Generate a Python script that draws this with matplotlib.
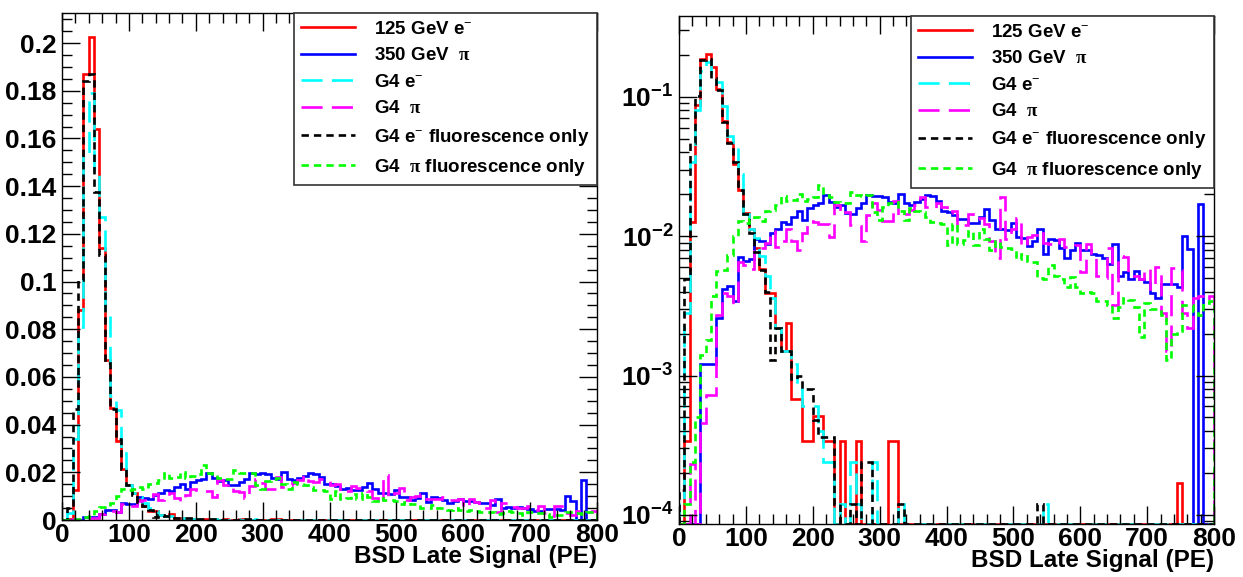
import numpy as np
import matplotlib
matplotlib.use("Agg")
import matplotlib.pyplot as plt
from matplotlib.ticker import MultipleLocator, LogLocator, FuncFormatter, NullFormatter

plt.rcParams["font.family"] = ["Liberation Sans", "DejaVu Sans"]
plt.rcParams["font.weight"] = "bold"
plt.rcParams["mathtext.fontset"] = "custom"
plt.rcParams["mathtext.rm"] = "Liberation Serif"
plt.rcParams["mathtext.bf"] = "Liberation Sans:bold"
plt.rcParams["mathtext.it"] = "Liberation Sans:italic"

# 100 bins of 8 PE, 0..800
bin_width = 8
n_bins = 100

# 125 GeV e- (data)
e125 = [0, 3.4e-4, 0.0126, 0.088, 0.187, 0.2025, 0.164, 0.114, 0.067, 0.047,
        0.033, 0.0215, 0.0146, 0.0112, 0.0082, 0.0058, 0.0039, 0.0039, 0.0022, 0.0015,
        0.0024, 6.8e-4, 6.8e-4, 3.4e-4, 3.4e-4, 5.1e-4, 5.1e-4, 3.4e-4, 3.4e-4, 0,
        3.4e-4, 0, 0, 3.4e-4, 0, 0, 0, 0, 0, 3.4e-4,
        3.4e-4, 0, 0, 0, 0, 0, 0, 0, 0, 0,
        0, 0, 0, 0, 0, 0, 0, 0, 0, 0,
        0, 0, 0, 0, 0, 0, 0, 0, 0, 0,
        0, 0, 0, 0, 0, 0, 0, 0, 0, 0,
        0, 0, 0, 0, 0, 0, 0, 0, 0, 0,
        0, 0, 0, 1.7e-4, 0, 0, 0, 0, 0, 0]

# 350 GeV pi (data)
pi350 = [0, 0, 0, 0, 0.0012, 0.0012, 0.0012, 0.0026, 0.0042, 0.0044,
         0.0034, 0.0071, 0.0066, 0.0069, 0.0095, 0.0093, 0.0088, 0.0105, 0.0112, 0.0126,
         0.0122, 0.0138, 0.0152, 0.013, 0.0158, 0.0166, 0.0172, 0.0198, 0.0175, 0.0162,
         0.0168, 0.0147, 0.0145, 0.0158, 0.0172, 0.0198, 0.0194, 0.0195, 0.0192, 0.0176,
         0.0174, 0.0201, 0.0172, 0.0168, 0.0175, 0.0185, 0.0196, 0.0194, 0.018, 0.0152,
         0.015, 0.0142, 0.0132, 0.0133, 0.0125, 0.0124, 0.0138, 0.0156, 0.013, 0.0112,
         0.0113, 0.011, 0.0125, 0.0098, 0.0097, 0.0085, 0.0092, 0.0112, 0.0074, 0.0095,
         0.0094, 0.0082, 0.007, 0.008, 0.009, 0.008, 0.0079, 0.0074, 0.0073, 0.007,
         0.0063, 0.0088, 0.0052, 0.0055, 0.0049, 0.0056, 0.0049, 0.0047, 0.0039, 0.0036,
         0.0045, 0.0045, 0.0045, 0.0043, 0.0101, 0.0081, 0, 0.0169, 0, 0]

# G4 e-
g4_e = [1.2e-4, 0.0028, 0.034, 0.081, 0.1525, 0.179, 0.146, 0.127, 0.086, 0.052,
        0.046, 0.028, 0.0145, 0.0112, 0.0097, 0.0072, 0.0052, 0.0036, 0.0022, 0.0015,
        0.0015, 0.0012, 8e-4, 6e-4, 6e-4, 6e-4, 4e-4, 2.4e-4, 2.4e-4, 0,
        1.2e-4, 0, 2.4e-4, 1.2e-4, 0, 0, 2.4e-4, 0, 0, 0,
        0, 1.2e-4, 0, 0, 0, 0, 0, 0, 0, 0,
        0, 0, 0, 0, 0, 0, 0, 0, 0, 0,
        0, 0, 0, 0, 0, 0, 0, 0, 1.2e-4, 0,
        0, 0, 0, 0, 0, 0, 0, 0, 0, 0,
        0, 0, 0, 0, 0, 0, 0, 0, 0, 0,
        0, 0, 0, 0, 0, 0, 0, 0, 0, 0]

# G4 pi
g4_pi = [0, 0, 2.3e-4, 0, 4.6e-4, 7.2e-4, 7.2e-4, 0.0027, 0.0039, 0.0037,
         0.0032, 0.0065, 0.0062, 0.0058, 0.0078, 0.0082, 0.0089, 0.0108, 0.0084, 0.0092,
         0.0112, 0.0092, 0.0079, 0.0106, 0.0129, 0.0126, 0.0122, 0.0123, 0.0098, 0.0168,
         0.0145, 0.0149, 0.012, 0.0118, 0.0093, 0.0142, 0.0174, 0.0155, 0.0129, 0.0128,
         0.018, 0.0139, 0.0145, 0.0155, 0.0168, 0.019, 0.0162, 0.0158, 0.0172, 0.0162,
         0.0147, 0.0152, 0.0119, 0.0121, 0.0144, 0.0133, 0.0135, 0.0122, 0.0093, 0.007,
         0.019, 0.0095, 0.0112, 0.0136, 0.0085, 0.0098, 0.0102, 0.0108, 0.0089, 0.0088,
         0.0086, 0.0095, 0.0084, 0.0083, 0.0087, 0.0055, 0.0088, 0.0076, 0.0052, 0.005,
         0.0082, 0.0032, 0.0072, 0.0071, 0.0055, 0.0052, 0.0049, 0.0058, 0.0042, 0.006,
         0.0028, 0.0015, 0.0059, 0.0057, 0.0028, 0.0022, 0.0036, 0.0037, 0.0035, 0.0037]

# G4 e- fluorescence only
g4_e_fl = [1.5e-4, 0.0049, 0.0465, 0.1005, 0.184, 0.187, 0.1375, 0.111, 0.066, 0.0465,
           0.034, 0.0215, 0.0145, 0.0105, 0.0077, 0.0057, 0.004, 0.0013, 0.0022, 0.0015,
           0.0015, 9.5e-4, 0.001, 8e-4, 8e-4, 4.8e-4, 3.6e-4, 3.6e-4, 3.6e-4, 1.2e-4,
           0, 0, 1.2e-4, 0, 2.4e-4, 2.4e-4, 0, 0, 0, 0,
           0, 1.2e-4, 0, 0, 0, 0, 0, 0, 0, 0,
           0, 0, 0, 0, 0, 0, 0, 0, 0, 0,
           0, 0, 0, 0, 0, 0, 0, 1.2e-4, 0, 0,
           0, 0, 0, 0, 0, 0, 0, 0, 0, 0,
           0, 0, 0, 0, 0, 0, 0, 0, 0, 0,
           0, 0, 0, 0, 0, 0, 0, 0, 0, 0]

# G4 pi fluorescence only
g4_pi_fl = [0, 1.2e-4, 2.4e-4, 5e-4, 0.0014, 0.0018, 0.0037, 0.0056, 0.0057, 0.0073,
            0.0101, 0.0128, 0.0125, 0.0132, 0.0138, 0.0128, 0.0152, 0.0155, 0.0168, 0.0195,
            0.0178, 0.0182, 0.0201, 0.0178, 0.0185, 0.0192, 0.0232, 0.0198, 0.0192, 0.0176,
            0.0174, 0.0173, 0.0208, 0.0198, 0.0195, 0.0196, 0.0148, 0.013, 0.0162, 0.0174,
            0.0176, 0.0152, 0.013, 0.0158, 0.0152, 0.0148, 0.0138, 0.0126, 0.0125, 0.0122,
            0.0087, 0.0122, 0.0088, 0.0094, 0.0108, 0.0086, 0.0112, 0.0095, 0.0079, 0.0092,
            0.0083, 0.0082, 0.0081, 0.0068, 0.0074, 0.0066, 0.0065, 0.005, 0.0049, 0.0062,
            0.0052, 0.0049, 0.0043, 0.0051, 0.0043, 0.0039, 0.004, 0.0039, 0.0034, 0.0034,
            0.0032, 0.0026, 0.0031, 0.0036, 0.0035, 0.0031, 0.0019, 0.0033, 0.003, 0.003,
            0.0027, 0.0013, 0.002, 0.0021, 0.0032, 0.0032, 0.0029, 0.0027, 0.0033, 0.0034]

labels = ["125 GeV e$^{-}$", "350 GeV  $\\mathrm{\\pi}$", "G4 e$^{-}$",
          "G4  $\\mathrm{\\pi}$", "G4 e$^{-}$ fluorescence only",
          "G4  $\\mathrm{\\pi}$ fluorescence only"]
colors = ["#ff0000", "#0000ff", "#00ffff", "#ff00ff", "#000000", "#00ff00"]
long_dash = (0, (8, 3.5))
short_dash = (0, (2.8, 1.9))
styles = ["-", "-", long_dash, long_dash, short_dash, short_dash]
series = [e125, pi350, g4_e, g4_pi, g4_e_fl, g4_pi_fl]

edges = np.arange(n_bins + 1) * bin_width
log_min, log_max = 8.6e-5, 0.38

fig = plt.figure(figsize=(12.43, 5.77), dpi=100)
ax1 = fig.add_axes([62 / 1243, 1 - 520 / 577, 535 / 1243, 507 / 577])
ax2 = fig.add_axes([679 / 1243, 1 - 524 / 577, 535 / 1243, 508 / 577])


def style_axis(ax):
    ax.set_xlim(0, 800)
    ax.xaxis.set_major_locator(MultipleLocator(100))
    ax.xaxis.set_minor_locator(MultipleLocator(20))
    ax.tick_params(which="both", direction="in", top=True, right=True,
                   labelsize=19, width=1)
    ax.tick_params(which="major", length=13)
    ax.tick_params(axis="x", which="major", pad=2)
    ax.tick_params(axis="y", which="major", pad=4)
    ax.tick_params(which="minor", length=7)
    for lab in ax.get_xticklabels() + ax.get_yticklabels():
        lab.set_fontweight("bold")
    for sp in ax.spines.values():
        sp.set_linewidth(1.0)
    ax.set_xlabel("BSD Late Signal (PE)", loc="right", fontsize=17.5,
                  fontweight="bold", labelpad=-1)
    leg = ax.legend(loc="upper right", bbox_to_anchor=(1, 1), borderaxespad=0,
                    fancybox=False, framealpha=1, edgecolor="#333333",
                    handlelength=2.9, labelspacing=0.5, borderpad=0.4,
                    handletextpad=1.0, prop={"size": 13.5, "weight": "bold"})
    leg.get_frame().set_linewidth(1.2)


# linear panel
for vals, lab, col, ls in zip(series, labels, colors, styles):
    ax1.stairs(vals, edges, baseline=0, color=col, linestyle=ls, linewidth=1.9,
               label=lab)
ax1.set_ylim(0, 0.2126)
ax1.yaxis.set_major_locator(MultipleLocator(0.02))
ax1.yaxis.set_minor_locator(MultipleLocator(0.005))
ax1.yaxis.set_major_formatter(FuncFormatter(lambda v, p: "%g" % round(v, 3)))
style_axis(ax1)

# log panel
for vals, lab, col, ls in zip(series, labels, colors, styles):
    v = np.asarray(vals, dtype=float)
    v = np.where(v > 0, v, log_min)
    ax2.stairs(v, edges, baseline=log_min, color=col, linestyle=ls,
               linewidth=1.9, label=lab)
ax2.set_yscale("log")
ax2.set_ylim(log_min, log_max)
ax2.yaxis.set_major_locator(LogLocator(base=10, numticks=10))
ax2.yaxis.set_minor_locator(LogLocator(base=10, subs=np.arange(2, 10), numticks=10))
ax2.yaxis.set_minor_formatter(NullFormatter())
ax2.yaxis.set_major_formatter(FuncFormatter(
    lambda v, p: r"$\mathbf{10^{%d}}$" % round(np.log10(v))))
style_axis(ax2)

fig.savefig("out.png", dpi=100)
